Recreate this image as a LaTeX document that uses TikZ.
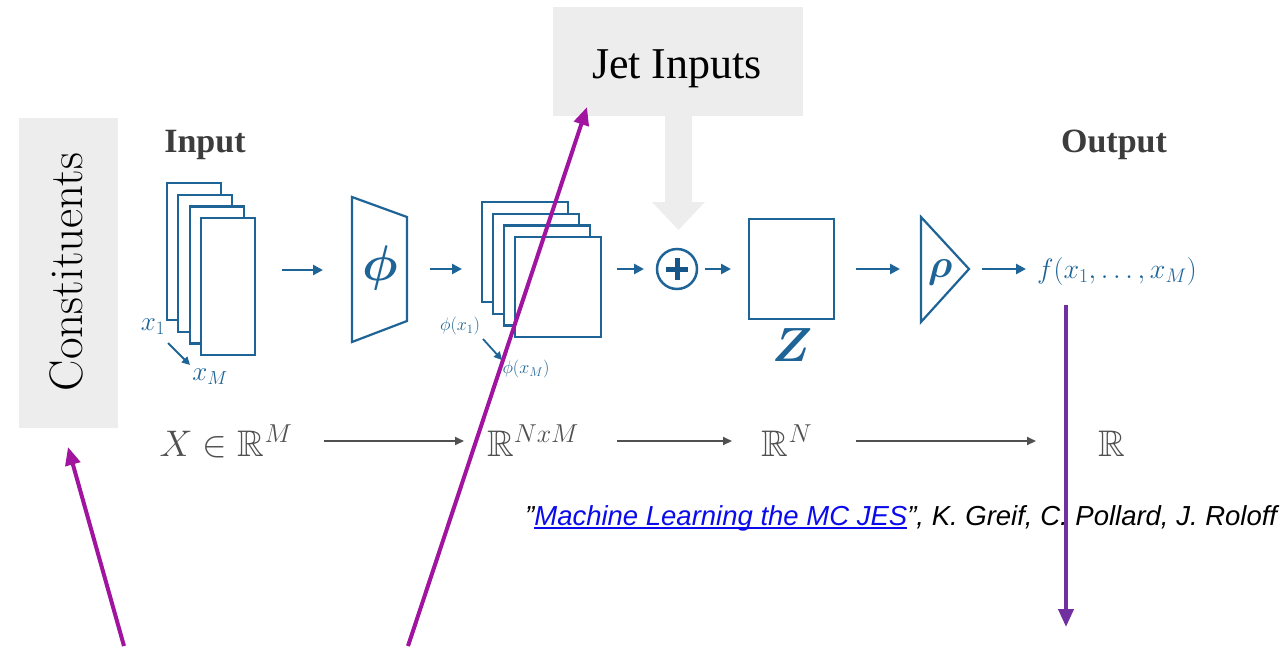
\RequirePackage{fix-cm}
\documentclass[tikz,border=0pt]{standalone}
\usepackage{amsmath,amssymb}
\usepackage{fontspec}
\usetikzlibrary{arrows.meta}
\newfontfamily\serifB{Liberation Serif}
\newfontfamily\citefont{Liberation Sans Italic}

\definecolor{dsblue}{RGB}{30,100,150}
\definecolor{plusblue}{RGB}{22,85,135}
\definecolor{panel}{RGB}{237,237,237}
\definecolor{headgray}{RGB}{60,60,60}
\definecolor{axisgray}{RGB}{80,80,80}
\definecolor{hlmag}{RGB}{160,20,160}
\definecolor{hlviolet}{RGB}{112,48,160}
\definecolor{linkblue}{RGB}{10,10,235}

% text with a solid underline of its own colour
\newcommand{\linkline}[1]{\setbox0\hbox{#1}\rlap{\rule[-3.5pt]{\wd0}{1.8pt}}\box0}

\tikzset{
  layer/.style={draw=dsblue, line width=2.2pt, fill=white, inner sep=0pt, outer sep=0pt},
  inlayer/.style={layer, minimum width=54pt, minimum height=137pt},
  phlayer/.style={layer, minimum width=86pt, minimum height=100pt},
  block/.style={draw=dsblue, line width=2.2pt, fill=white, line join=miter},
  flow/.style={draw=dsblue, line width=2.5pt, -{Triangle[length=10pt,width=10pt]}},
  thin flow/.style={draw=dsblue, line width=1.8pt, -{Triangle[length=8pt,width=8pt]}},
  maparrow/.style={draw=axisgray, line width=2pt, -{Triangle[length=9pt,width=8pt]}},
  pointer/.style={line width=4pt, -{Triangle[length=18pt,width=15pt]}},
  bluetext/.style={text=dsblue, inner sep=0pt},
  heading/.style={text=headgray, font=\serifB\bfseries\fontsize{34}{34}\selectfont, anchor=base, inner sep=0pt},
  spacelabel/.style={text=axisgray, font=\fontsize{37}{37}\selectfont, anchor=base, inner sep=0pt},
}

\begin{document}
\begin{tikzpicture}[x=1pt,y=-1pt]
\useasboundingbox (0,0) rectangle (1286,646);

% side panels
\node[fill=panel, minimum width=99pt, minimum height=310pt, inner sep=0pt] (cons) at (68.5,273) {};
\node[rotate=90, inner sep=0pt] (constext) at (66,272) {\fontsize{47}{47}\selectfont Constituents};
\node[fill=panel, minimum width=250pt, minimum height=109pt, inner sep=0pt] (jet) at (678,61.5) {};
\node[anchor=base, inner sep=0pt] (jettext) at (677,78) {\serifB\fontsize{44}{44}\selectfont Jet Inputs};
% block arrow from the jet inputs down to the sum
\fill[panel] (665,116) -- (665,202) -- (652,202) -- (678.5,230) -- (705,202) -- (692,202) -- (692,116) -- cycle;

% headings
\node[heading] (inhead) at (205,152) {Input};
\node[heading] (outhead) at (1114,152) {Output};

% input particles
\foreach \k in {0,...,3}
  \node[inlayer] (in\k) at ({194+11.3*\k},{251.5+11.7*\k}) {};
\node[bluetext, font=\fontsize{27}{27}\selectfont] (xone) at (153,327) {$x_1$};
\node[bluetext, font=\fontsize{27}{27}\selectfont] (xem) at (210,377) {$x_M$};
\coordinate (xa) at (168,343);
\coordinate (xb) at (190,365);
\draw[thin flow] (xa) -- (xb);

% phi network
\draw[block] (352,197) -- (407,217) -- (407,321) -- (352,342) -- cycle;
\node[bluetext, font=\fontsize{50}{50}\selectfont\boldmath] (phi) at (380,268) {$\phi$};

% per-particle latent vectors
\foreach \k in {0,...,3}
  \node[phlayer] (ph\k) at ({525+11*\k},{252+11.7*\k}) {};
\node[bluetext, font=\fontsize{18}{18}\selectfont] (phone) at (460,326) {$\phi(x_1)$};
\node[bluetext, font=\fontsize{18}{18}\selectfont] (phem) at (526,369) {$\phi(x_M)$};
\coordinate (pa) at (483,339);
\coordinate (pb) at (502,360);
\draw[thin flow] (pa) -- (pb);

% sum
\node[circle, draw=dsblue, line width=2.5pt, minimum size=40pt, inner sep=0pt] (sum) at (677,269) {};
\draw[plusblue, line width=5pt] (666,269) -- (688,269) (677,258) -- (677,280);

% latent space
\node[layer, minimum width=85pt, minimum height=100pt] (zbox) at (791.5,269) {};
\node[bluetext, font=\fontsize{48}{48}\selectfont] (zlab) at (792,345) {$\boldsymbol{Z}$};

% rho network
\draw[block] (921,217) -- (969,269) -- (921,322) -- cycle;
\node[bluetext, font=\fontsize{40}{40}\selectfont\boldmath] (rho) at (940,272) {$\rho$};

% output
\node[bluetext, anchor=west, font=\fontsize{28}{28}\selectfont] (fout) at (1037,271) {$f(x_1,\dots,x_M)$};

% pipeline arrows
\coordinate (f1a) at (282,270); \coordinate (f1b) at (323,270);
\coordinate (f2a) at (430,269); \coordinate (f2b) at (462,269);
\coordinate (f3a) at (617,269); \coordinate (f3b) at (644,269);
\coordinate (f4a) at (705,269); \coordinate (f4b) at (731,269);
\coordinate (f5a) at (856,269); \coordinate (f5b) at (900,269);
\coordinate (f6a) at (982,269); \coordinate (f6b) at (1026,269);
\foreach \i in {1,...,6} \draw[flow] (f\i a) -- (f\i b);

% spaces
\node[spacelabel] (sx) at (226,456) {$X \in \mathbb{R}^M$};
\node[spacelabel] (snm) at (533,456) {$\mathbb{R}^{NxM}$};
\node[spacelabel] (sn) at (787,456) {$\mathbb{R}^N$};
\node[spacelabel] (sr) at (1112,456) {$\mathbb{R}$};
\coordinate (m1a) at (324,441); \coordinate (m1b) at (464,441);
\coordinate (m2a) at (617,441); \coordinate (m2b) at (732,441);
\coordinate (m3a) at (856,441); \coordinate (m3b) at (1036,441);
\foreach \i in {1,2,3} \draw[maparrow] (m\i a) -- (m\i b);

% reference
\node[anchor=base west, inner sep=0pt] (cite) at (525,525)
  {\citefont\fontsize{27.5}{30}\selectfont ”\textcolor{linkblue}{\linkline{Machine Learning the MC JES}}”, K. Greif, C. Pollard, J. Roloff};

% highlight pointers
\coordinate (h1a) at (124,646); \coordinate (h1b) at (68,447);
\coordinate (h2a) at (408,646); \coordinate (h2b) at (587,107);
\coordinate (h3a) at (1066,305); \coordinate (h3b) at (1066,627);
\draw[pointer, hlmag] (h1a) -- (h1b);
\draw[pointer, hlmag] (h2a) -- (h2b);
\draw[pointer, hlviolet] (h3a) -- (h3b);
\end{tikzpicture}
\end{document}
